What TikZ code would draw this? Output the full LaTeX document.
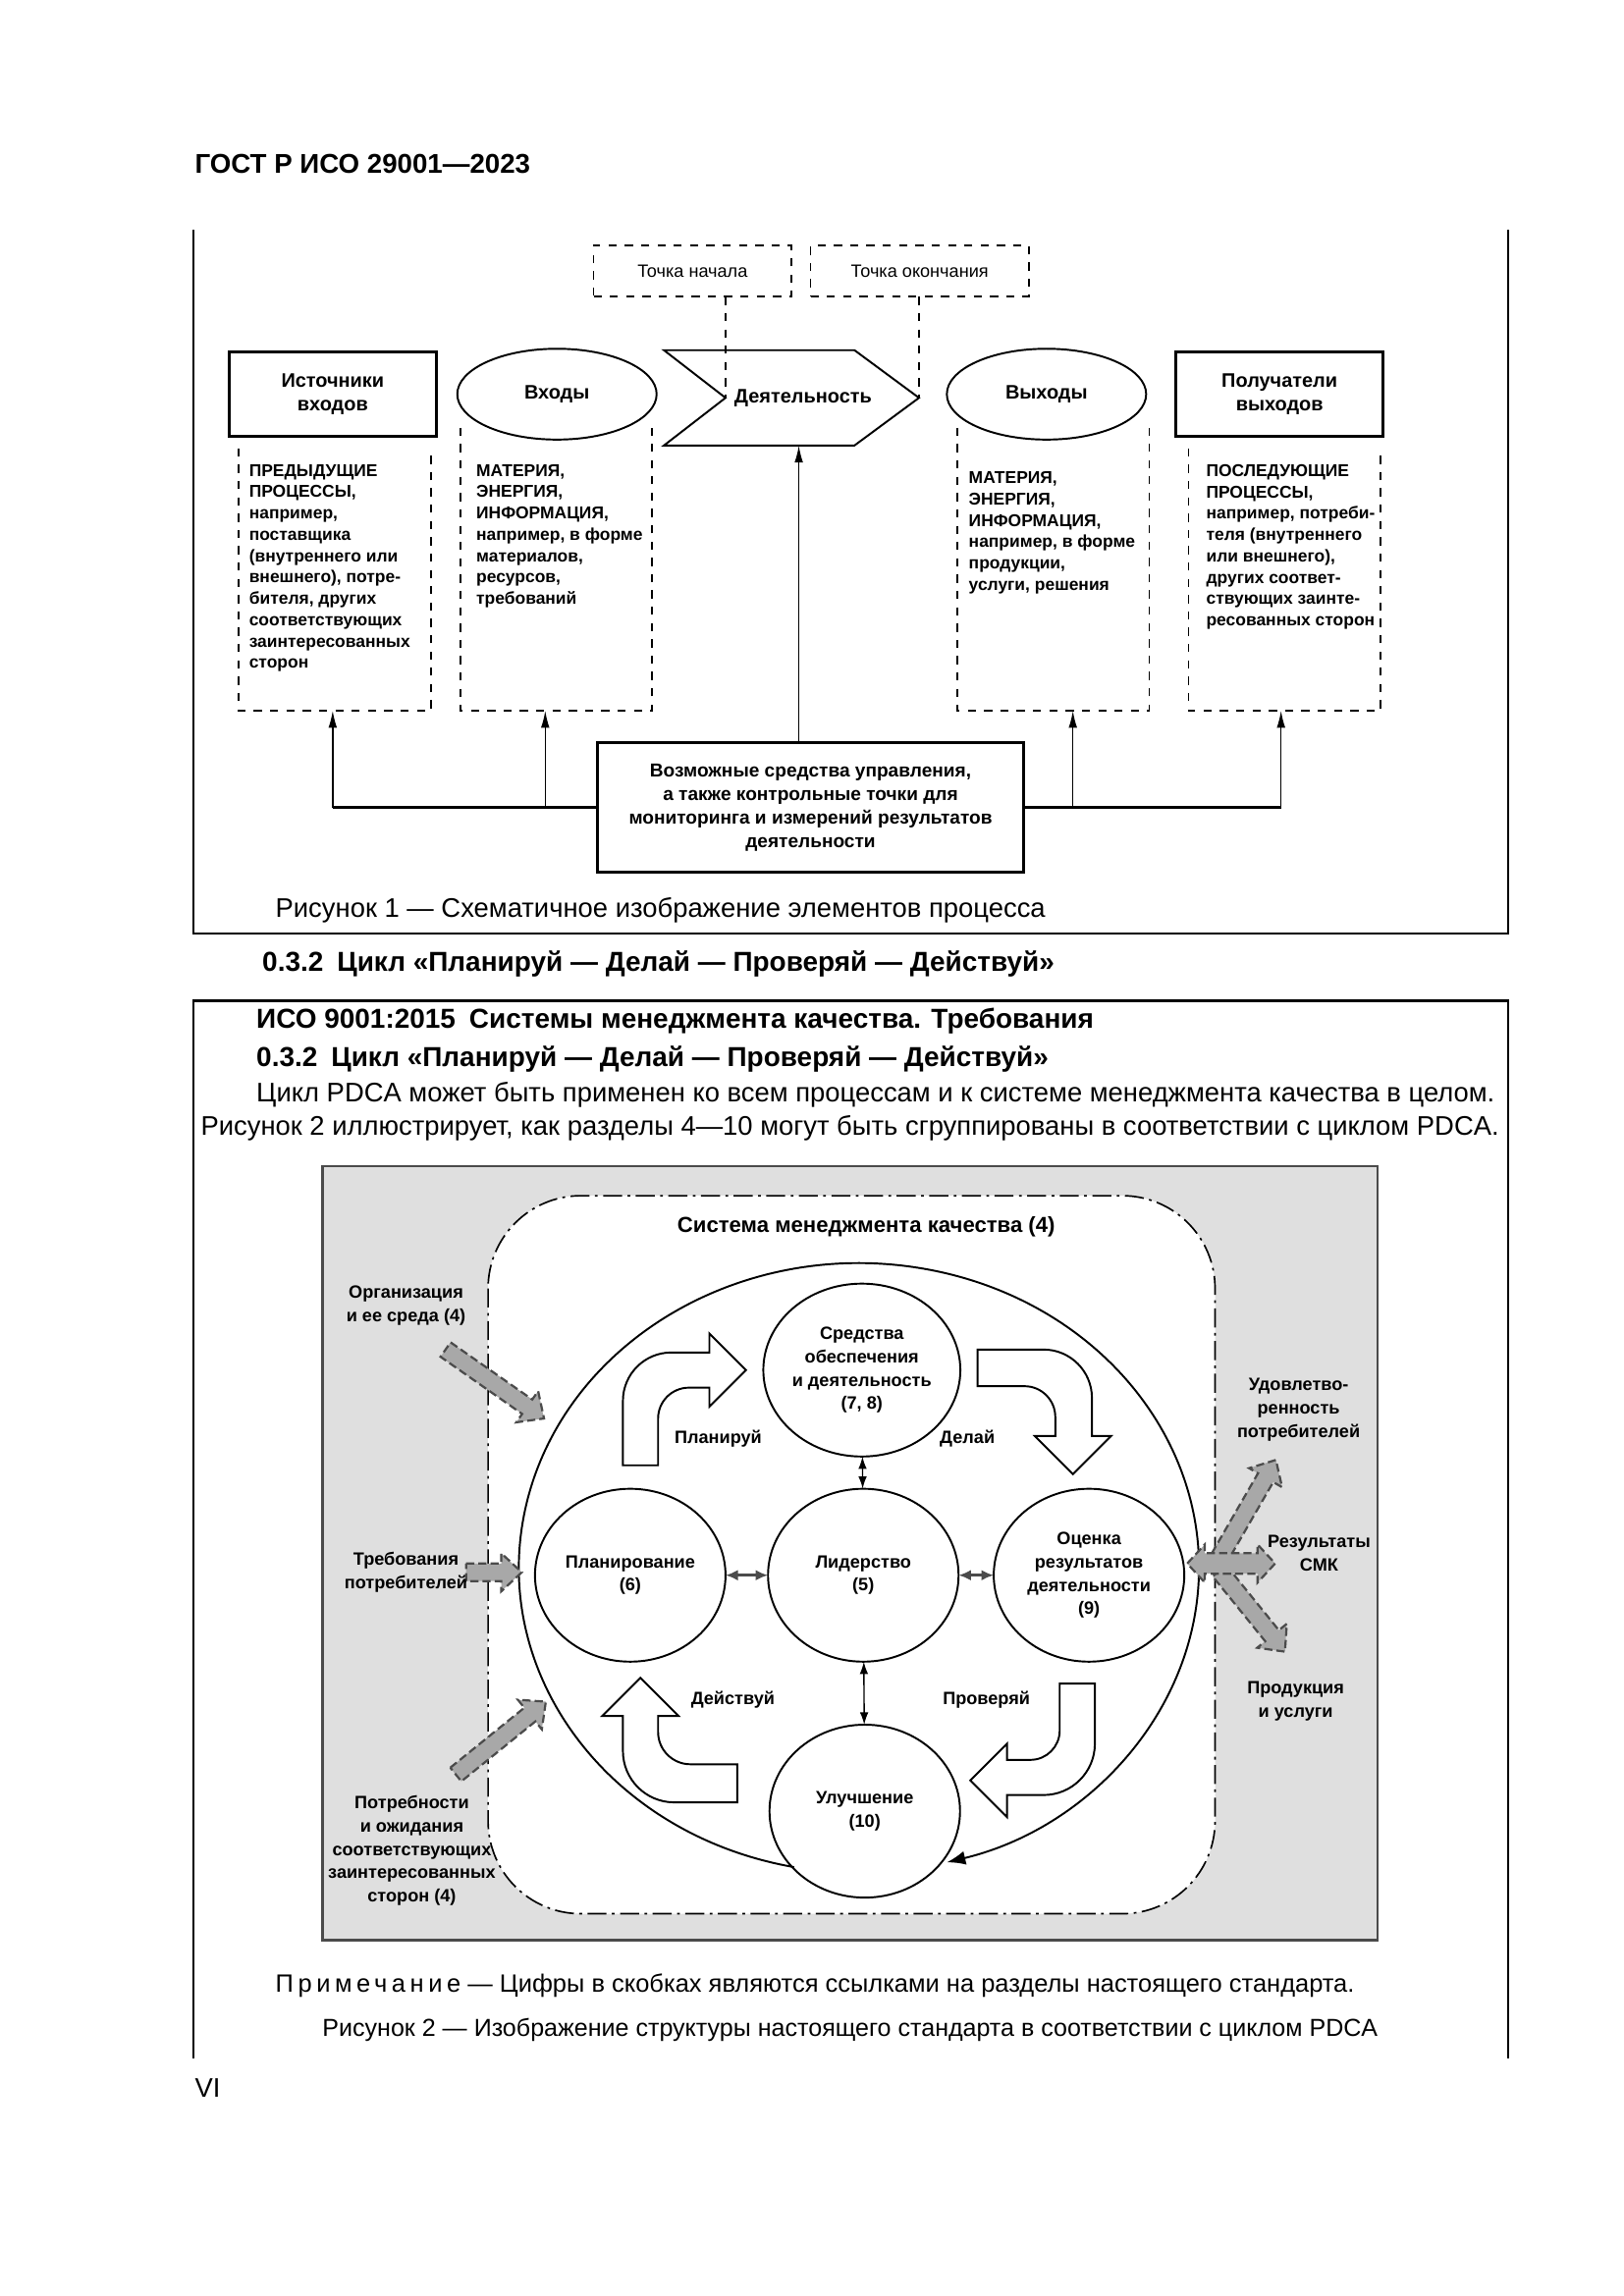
\documentclass[tikz,border=0pt]{standalone}
\usepackage{fontspec}
\setmainfont{Liberation Sans}
\usetikzlibrary{shapes.geometric, arrows.meta, positioning, calc}
\definecolor{colPanel}{RGB}{223,223,223}
\definecolor{colArrow}{RGB}{168,168,168}
\definecolor{colEdge}{RGB}{75,75,75}
\newcommand{\unitpx}{0.18953mm}
\newcommand{\fsBody}{\fontsize{9.9}{12}\selectfont}
\newcommand{\fsBold}{\fontsize{10.1}{12}\selectfont\bfseries}
\newcommand{\fsCap}{\fontsize{9.2}{11}\selectfont}
\newcommand{\fsCapB}{\fontsize{9.05}{11}\selectfont}
\newcommand{\fsHdr}{\fontsize{10}{12}\selectfont}
\newcommand{\fsHead}{\fontsize{7.2}{8.7}\selectfont}
\newcommand{\fsCtl}{\fontsize{6.9}{8.7}\selectfont}
\newcommand{\fsSmall}{\fontsize{6.3}{7.85}\selectfont}
\newcommand{\fsLbl}{\fontsize{6.55}{8.6}\selectfont}
\newcommand{\fsTitle}{\fontsize{8}{9.5}\selectfont}

\begin{document}
\begin{tikzpicture}[x=0.18953mm, y=-0.18953mm,
    every node/.style={inner sep=0pt, outer sep=0pt},
    hdrbox/.style={draw, line width=1.1pt, minimum width=141*\unitpx, minimum height=58*\unitpx, align=center, font=\fsHead\bfseries},
    oval/.style={draw, ellipse, line width=0.7pt, minimum width=136*\unitpx, minimum height=62*\unitpx, font=\fsHead\bfseries},
    tagbox/.style={draw, dashed, line width=0.6pt, minimum height=35*\unitpx, font=\fsLbl},
    panelbox/.style={minimum width=131*\unitpx, anchor=north west},
    paneltext/.style={anchor=north west, align=left, font=\fsSmall\bfseries},
    tip/.style={-{Latex[length=2.2mm, width=1.1mm]}, line width=0.5pt},
    pdca/.style={draw, ellipse, line width=0.7pt, minimum width=130*\unitpx, minimum height=118*\unitpx, align=center, font=\fsLbl\bfseries},
    lbl/.style={align=center, font=\fsLbl\bfseries},
    hollow/.style={draw, fill=white, line width=0.7pt},
    garrow/.style={draw=colEdge, fill=colArrow, line width=0.8pt, dash pattern=on 3pt off 1.5pt},
    biarrow/.style={{Latex[length=1.6mm, width=1.4mm]}-{Latex[length=1.6mm, width=1.4mm]}, colEdge, line width=1.1pt},
    varrow/.style={{Latex[length=1.6mm, width=1.1mm]}-{Latex[length=1.6mm, width=1.1mm]}, line width=0.5pt},
    txt/.style={anchor=west, font=\fsBody}
]
    \fill[white] (0,0) rectangle (1108,1566.9);
    \useasboundingbox (0,0) rectangle (1108,1566.9);

    \node[txt, font=\fsHdr\bfseries] (gost) at (133,112) {ГОСТ Р ИСО 29001—2023};

    % --- Рисунок 1 ---
    \draw[line width=0.9pt] (132,157) -- (132,637) -- (1029,637) -- (1029,157);
    \node[tagbox, minimum width=135*\unitpx] (startP) at (472.5,185) {Точка начала};
    \node[tagbox, minimum width=149*\unitpx] (endP) at (627.5,185) {Точка окончания};

    \node[hdrbox] (src) at (227,269) {Источники\\входов};
    \node[oval] (inp) at (380,269) {Входы};
    \node[minimum width=174*\unitpx, minimum height=65*\unitpx, font=\fsHead\bfseries] (act) at (540,271.5) {\hspace*{3mm}Деятельность};
    \draw[line width=0.7pt] (act.north west) -- ($(act.north east)+(-44,0)$) -- (act.east)
        -- ($(act.south east)+(-44,0)$) -- (act.south west) -- ($(act.west)+(42,0)$) -- cycle;
    \node[oval] (outp) at (714,269) {Выходы};
    \node[hdrbox] (rcv) at (873,269) {Получатели\\выходов};

    % пунктирные поля под заголовками
    \node[panelbox, minimum height=179*\unitpx] (srcD) at (163,306) {};
    \node[panelbox, minimum height=193*\unitpx] (inD) at (314,292) {};
    \node[panelbox, minimum height=193*\unitpx] (outD) at (653,292) {};
    \node[panelbox, minimum height=179*\unitpx] (rcvD) at (811,306) {};
    \foreach \p in {srcD, inD, outD, rcvD}
        \draw[dashed, line width=0.6pt] (\p.north west) -- (\p.south west) -- (\p.south east) -- (\p.north east);

    \node[paneltext] (srcT) at (170,317) {ПРЕДЫДУЩИЕ\\ПРОЦЕССЫ,\\например,\\поставщика\\(внутреннего или\\внешнего), потре-\\бителя, других\\соответствующих\\заинтересованных\\сторон};
    \node[paneltext] (inT) at (325,317) {МАТЕРИЯ,\\ЭНЕРГИЯ,\\ИНФОРМАЦИЯ,\\например, в форме\\материалов,\\ресурсов,\\требований};
    \node[paneltext] (outT) at (661,322) {МАТЕРИЯ,\\ЭНЕРГИЯ,\\ИНФОРМАЦИЯ,\\например, в форме\\продукции,\\услуги, решения};
    \node[paneltext] (rcvT) at (823,317) {ПОСЛЕДУЮЩИЕ\\ПРОЦЕССЫ,\\например, потреби-\\теля (внутреннего\\или внешнего),\\других соответ-\\ствующих заинте-\\ресованных сторон};

    \node[draw, line width=1.1pt, minimum width=291*\unitpx, minimum height=89*\unitpx, align=center, font=\fsCtl\bfseries] (ctrl) at (553,551)
        {Возможные средства управления,\\а также контрольные точки для\\мониторинга и измерений результатов\\деятельности};

    % связи
    \foreach \x/\n [count=\i] in {227/srcD, 372/inD, 732/outD, 874/rcvD} {
        \coordinate (j\i) at (\x,551);
        \draw[tip] (j\i) -- (j\i |- \n.south);
    }
    \draw[line width=1.1pt] (j1) -- (ctrl.west) (ctrl.east) -- (j4);
    \coordinate (actIn) at (545,304);
    \draw[tip] (ctrl.north -| actIn) -- (actIn);
    \coordinate (notch) at (495,271.5);
    \draw[dashed, line width=0.6pt] (startP.south -| notch) -- (notch);
    \draw[dashed, line width=0.6pt] (endP.south -| act.east) -- (act.east);

    \node[txt, font=\fsBody] (cap1) at (188,621) {Рисунок 1 — Схематичное изображение элементов процесса};
    \node[txt, font=\fsBold] (sec1) at (179,658) {0.3.2\enspace Цикл «Планируй — Делай — Проверяй — Действуй»};

    % --- Рисунок 2 ---
    \draw[line width=0.9pt] (132,1405) -- (132,683) -- (1029,683) -- (1029,1405);
    \node[txt, font=\fsBold] (iso) at (175,697) {ИСО 9001:2015\enspace Системы менеджмента качества. Требования};
    \node[txt, font=\fsBold] (sec2) at (175,723) {0.3.2\enspace Цикл «Планируй — Делай — Проверяй — Действуй»};
    \node[txt] (par1) at (175,747) {Цикл PDCA может быть применен ко всем процессам и к системе менеджмента качества в целом.};
    \node[txt] (par2) at (137,770) {Рисунок 2 иллюстрирует, как разделы 4—10 могут быть сгруппированы в соответствии с циклом PDCA.};

    \draw[fill=colPanel, draw=colEdge, line width=0.8pt] (220,796) rectangle (940,1324);
    \draw[fill=white, line width=0.6pt, dash pattern=on 7pt off 2pt on 1pt off 2pt, rounded corners=12mm] (333,816) rectangle (829,1306);
    \node[font=\fsTitle\bfseries] (qms) at (591,837) {Система менеджмента качества (4)};

    % большой цикл
    \draw[line width=0.7pt, -{Latex[length=2.4mm, width=1.8mm]}] ($(586,1070)+(101:232 and 208)$)
        arc[start angle=101, end angle=435, x radius=232, y radius=208];

    \node[pdca] (supp) at (588,935) {Средства\\обеспечения\\и деятельность\\(7, 8)};
    \node[pdca] (plan) at (430,1075) {Планирование\\(6)};
    \node[pdca] (lead) at (589,1075) {Лидерство\\(5)};
    \node[pdca] (eval) at (743,1075) {Оценка\\результатов\\деятельности\\(9)};
    \node[pdca] (impr) at (590,1236) {Улучшение\\(10)};

    \draw[biarrow] (plan) -- (lead);
    \draw[biarrow] (lead) -- (eval);
    \draw[varrow] (supp) -- (lead);
    \draw[varrow] (lead) -- (impr);

    % полые стрелки PDCA
    \draw[hollow] (425,1000) -- (425,956) arc[start angle=180, end angle=270, radius=33] -- (484,923) -- (484,910)
        -- (509,935) -- (484,960) -- (484,947) -- (470,947) arc[start angle=270, end angle=180, radius=21] -- (449,1000) -- cycle;
    \draw[hollow] (667,921) -- (712,921) arc[start angle=270, end angle=360, radius=33] -- (745,980) -- (758,980)
        -- (732,1006) -- (706,980) -- (720,980) -- (720,967) arc[start angle=0, end angle=-90, radius=21] -- (667,946) -- cycle;
    \draw[hollow] (503,1204) -- (471,1204) arc[start angle=90, end angle=180, radius=22] -- (449,1171) -- (463,1171)
        -- (437,1145) -- (411,1171) -- (425,1171) -- (425,1195) arc[start angle=180, end angle=90, radius=35] -- (503,1230) -- cycle;
    \draw[hollow] (723,1149) -- (747,1149) -- (747,1190) arc[start angle=0, end angle=90, radius=35] -- (687,1225) -- (687,1240)
        -- (662,1215) -- (687,1190) -- (687,1201) -- (703,1201) arc[start angle=90, end angle=0, radius=20] -- cycle;

    \node[lbl] (tPlan) at (490,982) {Планируй};
    \node[lbl] (tDo) at (660,982) {Делай};
    \node[lbl] (tAct) at (500,1160) {Действуй};
    \node[lbl] (tChk) at (673,1160) {Проверяй};

    % серые стрелки входов и выходов
    \foreach \x/\y/\a/\l in {304/921/-35/82, 318/1073/0/38, 311/1211/39/79, 832/1063/60/77, 832/1072/-51/71} {
        \begin{scope}[shift={(\x,\y)}, rotate=\a]
            \draw[garrow] (0,-6) -- (\l-14,-6) -- (\l-14,-13) -- (\l,0) -- (\l-14,13) -- (\l-14,6) -- (0,6) -- cycle;
        \end{scope}
    }
    \begin{scope}[shift={(810,1067)}]
        \draw[garrow] (0,0) -- (12,-13) -- (12,-7) -- (48,-7) -- (48,-13) -- (60,0) -- (48,13) -- (48,7) -- (12,7) -- (12,13) -- cycle;
    \end{scope}

    \node[lbl] (org) at (277,891) {Организация\\и ее среда (4)};
    \node[lbl] (req) at (277,1073) {Требования\\потребителей};
    \node[lbl] (needs) at (281,1263) {Потребности\\и ожидания\\соответствующих\\заинтересованных\\сторон (4)};
    \node[lbl] (sat) at (886,962) {Удовлетво-\\ренность\\потребителей};
    \node[lbl] (res) at (900,1060) {Результаты\\СМК};
    \node[lbl] (prod) at (884,1161) {Продукция\\и услуги};

    \node[txt, font=\fsCap] (note) at (188,1355) {{\addfontfeature{LetterSpace=18}Примечание} — Цифры в скобках являются ссылками на разделы настоящего стандарта.};
    \node[txt, font=\fsCapB] (cap2) at (220,1385) {Рисунок 2 — Изображение структуры настоящего стандарта в соответствии с циклом PDCA};
    \node[txt] (page) at (133,1425) {VI};
\end{tikzpicture}
\end{document}
